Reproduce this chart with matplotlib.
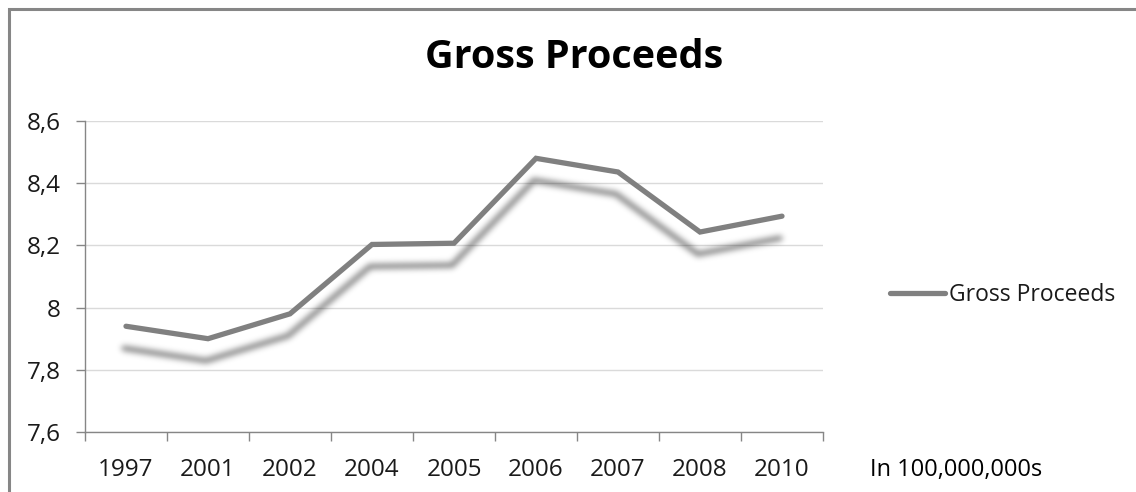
import numpy as np
import matplotlib
matplotlib.use("Agg")
import matplotlib.pyplot as plt
from matplotlib.patches import Rectangle
from matplotlib.ticker import FuncFormatter, FixedLocator

years = ["1997", "2001", "2002", "2004", "2005", "2006", "2007", "2008", "2010"]
proceeds = [7.94, 7.90, 7.98, 8.203, 8.207, 8.48, 8.436, 8.243, 8.294]
y_ticks = [7.6, 7.8, 8.0, 8.2, 8.4, 8.6]

plt.rcParams['font.family'] = ['Open Sans', 'DejaVu Sans']

W, H = 1136, 492


class BlurShadow:
    """agg filter: soft drop shadow made from the artist's alpha channel"""
    def __init__(self, sigma, ox, oy, alpha):
        self.sigma = sigma
        self.ox = ox
        self.oy = oy
        self.alpha = alpha

    def __call__(self, im, dpi):
        pad = int(self.sigma * 3) + 1
        a = np.pad(im[:, :, 3], pad)
        k = np.arange(-pad, pad + 1)
        kern = np.exp(-0.5 * (k / self.sigma) ** 2)
        kern /= kern.sum()
        b = np.zeros_like(a)
        for w, s in zip(kern, k):
            b += w * np.roll(a, s, axis=0)
        c = np.zeros_like(a)
        for w, s in zip(kern, k):
            c += w * np.roll(b, s, axis=1)
        out = np.zeros(a.shape + (4,))
        out[:, :, 3] = np.clip(c * self.alpha, 0, 1)
        return out, -pad + self.ox, -pad + self.oy


fig = plt.figure(figsize=(W / 100, H / 100), dpi=100)
ax = fig.add_axes([85 / W, 1 - 432 / H, (823 - 85) / W, (432 - 121) / H])

x = np.arange(len(years))
gray = "#808080"

shadow, = ax.plot(x, proceeds, color="black", lw=3.8, solid_joinstyle="miter",
                  solid_capstyle="round", zorder=2)
shadow.set_agg_filter(BlurShadow(sigma=3.0, ox=-2, oy=-22, alpha=0.5))
shadow.set_rasterized(True)

ax.plot(x, proceeds, color=gray, lw=3.8, solid_joinstyle="miter",
        solid_capstyle="round", zorder=3, label="Gross Proceeds")

ax.set_xlim(-0.5, len(years) - 0.5)
ax.set_ylim(7.6, 8.6)
ax.set_yticks(y_ticks)
ax.yaxis.set_major_formatter(FuncFormatter(
    lambda v, p: ("%g" % round(v, 2)).replace(".", ",")))

# category labels centred, tick marks between categories
ax.set_xticks(x)
ax.set_xticklabels(years)
ax.xaxis.set_minor_locator(FixedLocator(np.arange(-0.5, len(years), 1.0)))
ax.tick_params(axis="x", which="major", length=0, pad=19)
ax.tick_params(axis="x", which="minor", length=6.5, width=1, color="#868686")
ax.tick_params(axis="y", length=6.5, width=1, color="#868686", pad=11)
ax.tick_params(labelsize=17.5, labelcolor="#1a1a1a")

ax.grid(axis="y", color="#dadada", lw=1)
ax.set_axisbelow(True)
for s in ["top", "right"]:
    ax.spines[s].set_visible(False)
for s in ["left", "bottom"]:
    ax.spines[s].set_color("#868686")
    ax.spines[s].set_linewidth(1)

fig.text(574 / W, 1 - 58 / H, "Gross Proceeds", ha="center", va="center",
         fontsize=28.5, fontweight="bold", color="black")

leg = fig.legend(loc="center left", bbox_to_anchor=(881 / W, 1 - 295 / H),
                 frameon=False, fontsize=16.5, handlelength=2.4,
                 handletextpad=0.15, borderaxespad=0)
for t in leg.get_texts():
    t.set_color("#1a1a1a")

fig.text(870 / W, 1 - 470 / H, "In 100,000,000s", ha="left", va="center",
         fontsize=17, color="black")

# outer chart frame (only top and left edges fall inside the image)
fig.add_artist(Rectangle((9 / W, -0.2), 1.2, 1.2 - 9 / H,
                         transform=fig.transFigure, fill=False,
                         edgecolor="#868686", lw=2.2))

fig.savefig("out.png", dpi=100)
